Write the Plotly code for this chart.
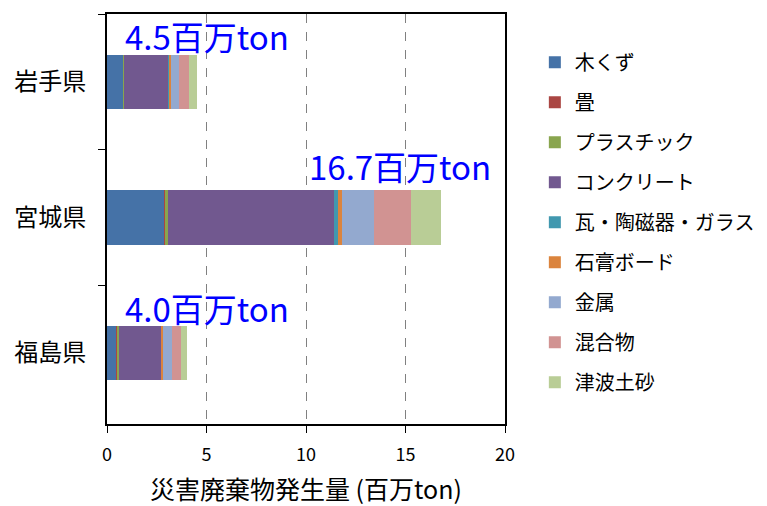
import plotly.graph_objects as go

prefectures = ["岩手県", "宮城県", "福島県"]
series_names = ["木くず", "畳", "プラスチック", "コンクリート", "瓦・陶磁器・ガラス",
                "石膏ボード", "金属", "混合物", "津波土砂"]
# values in million tons, per prefecture (岩手, 宮城, 福島)
wood = [0.83, 2.88, 0.50]
tatami = [0.02, 0.05, 0.01]
plastic = [0.02, 0.11, 0.08]
concrete = [2.22, 8.37, 2.14]
tile_glass = [0.05, 0.18, 0.03]
gypsum = [0.06, 0.22, 0.05]
metal = [0.40, 1.62, 0.45]
mixed = [0.50, 1.85, 0.45]
sand = [0.43, 1.50, 0.30]
totals_label = ["4.5百万ton", "16.7百万ton", "4.0百万ton"]
label_x = [0.8, 10.05, 0.8]
label_shift = [46, 51, 45]

series_values = [wood, tatami, plastic, concrete, tile_glass, gypsum, metal, mixed, sand]
colors = ["#4572A7", "#AA4643", "#89A54E", "#71588F", "#4198AF",
          "#DB843D", "#93A9CF", "#D19392", "#B9CD96"]

JP = "Noto Sans CJK JP"

fig = go.Figure()
for name, vals, col in zip(series_names, series_values, colors):
    fig.add_trace(go.Bar(
        y=prefectures, x=vals, name=name, orientation="h",
        marker=dict(color=col, line=dict(width=0)),
        legendgroup=name,
    ))

for p, t, lx, sh in zip(prefectures, totals_label, label_x, label_shift):
    fig.add_annotation(x=lx, y=p, text=t, showarrow=False, xanchor="left",
                       yanchor="middle", yshift=sh,
                       font=dict(family=JP, size=33, color="#0000FF"))

fig.update_layout(
    width=759, height=498,
    barmode="stack", bargap=0.6,
    paper_bgcolor="white", plot_bgcolor="white",
    margin=dict(l=99, r=262, t=6, b=82),
    font=dict(family=JP, color="black"),
    legend=dict(x=1.075, y=0.93, xanchor="left", yanchor="top",
                traceorder="grouped", tracegroupgap=11,
                font=dict(family=JP, size=20, color="black")),
    xaxis=dict(range=[0, 20], dtick=5, tick0=0, automargin=False,
               showgrid=True, gridcolor="#808080", griddash="dash", gridwidth=1,
               showline=True, linecolor="black", linewidth=2, mirror=True,
               ticks="outside", ticklen=7, tickcolor="black",
               ticklabelstandoff=6,
               tickfont=dict(size=18, family=JP),
               title=dict(text="災害廃棄物発生量 (百万ton)", font=dict(size=25, family=JP), standoff=18),
               zeroline=False),
    yaxis=dict(categoryorder="array", categoryarray=prefectures, autorange="reversed",
               automargin=False,
               showgrid=False, showline=True, linecolor="black", linewidth=2, mirror=True,
               ticks="outside", tickson="boundaries", ticklen=7, tickcolor="black",
               ticklabelstandoff=14,
               tickfont=dict(size=24, family=JP)),
)

fig.write_html("out.html")
